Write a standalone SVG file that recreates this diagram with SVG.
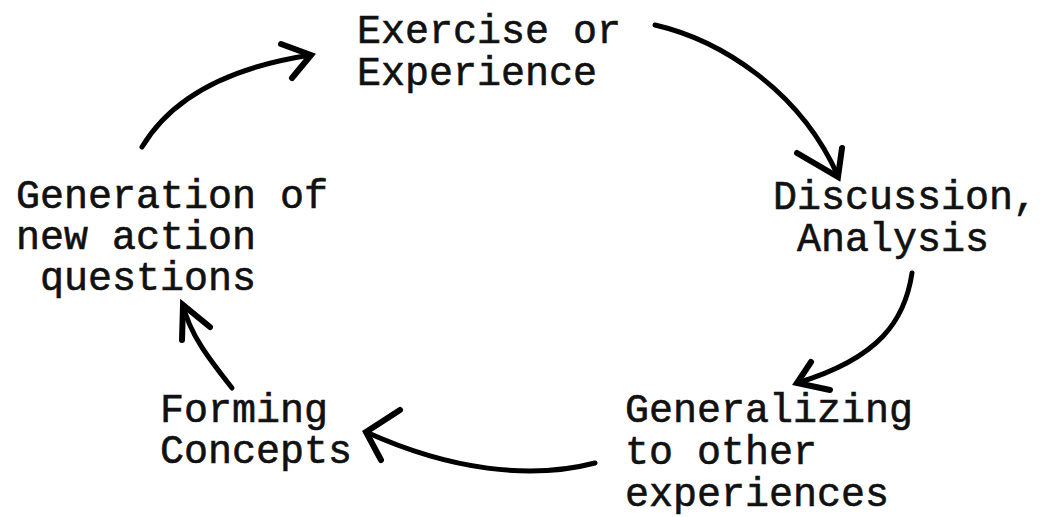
<svg xmlns="http://www.w3.org/2000/svg" width="1042" height="517" viewBox="0 0 1042 517">
<style>
.t{font-family:"Liberation Mono","DejaVu Sans Mono",monospace;font-size:40px;fill:#111;stroke:#111;stroke-width:0.6px;}
.c{fill:none;stroke:#000;stroke-width:5;stroke-linecap:round;stroke-linejoin:round;}
.h{fill:none;stroke:#000;stroke-width:6;stroke-linecap:round;}
</style>
<rect width="1042" height="517" fill="#fff"/>
<g id="node-exercise"><text class="t" x="357" y="43">Exercise or</text><text class="t" x="357" y="85">Experience</text></g>
<g id="node-discussion"><text class="t" x="773" y="209">Discussion,</text><text class="t" x="797" y="251">Analysis</text></g>
<g id="node-generalizing"><text class="t" x="625" y="422">Generalizing</text><text class="t" x="625" y="464">to other</text><text class="t" x="625" y="506">experiences</text></g>
<g id="node-forming"><text class="t" x="160" y="422">Forming</text><text class="t" x="160" y="463">Concepts</text></g>
<g id="node-generation"><text class="t" x="16" y="208">Generation of</text><text class="t" x="16" y="249">new action</text><text class="t" x="40" y="290">questions</text></g>
<g id="connectors">
<path class="c" d="M142,147 C170,100 225,68 311,55"/>
<path class="h" d="M281,44 L311,55 L292,78"/>
<path class="c" d="M655,25 C720,40 800,90 838,176"/>
<path class="h" d="M797,153 L838,177 L842,148"/>
<path class="c" d="M912,273 C905,320 880,358 797,383"/>
<path class="h" d="M811,362 L797,383 L830,390"/>
<path class="c" d="M595,463 C530,480 450,470 366,432"/>
<path class="h" d="M400,410 L366,432 L381,460"/>
<path class="c" d="M232,388 C210,360 190,335 183,305"/>
<path class="h" d="M210,327 L183,305 L182,340"/>
</g>
</svg>
